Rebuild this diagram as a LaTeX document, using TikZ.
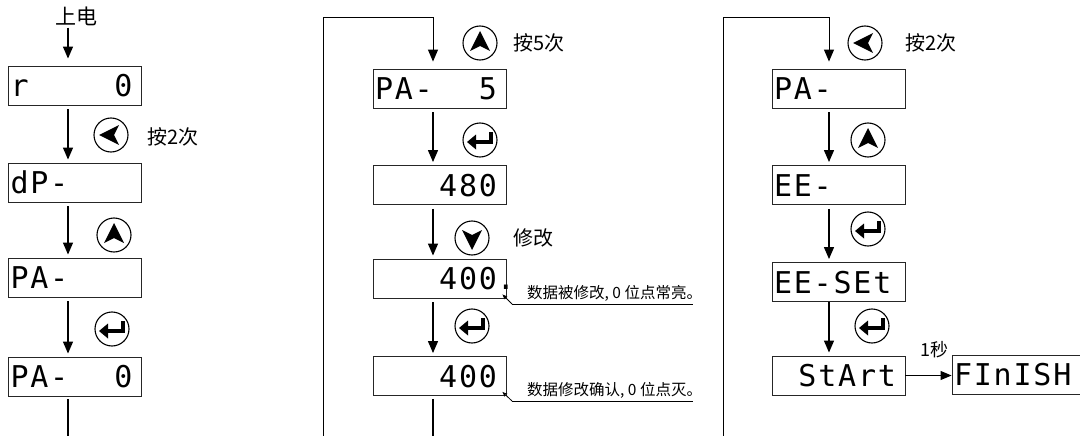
\documentclass[tikz,border=0pt]{standalone}
\usepackage{fontspec}
\usetikzlibrary{arrows.meta}
\newfontfamily\cjk{Noto Sans CJK SC}
\newfontfamily\lcdfont{DejaVu Sans Mono}[LetterSpace=6]
\newcommand\lcd[2]{\hspace*{2pt}\makebox[122pt]{\fontsize{30}{30}\lcdfont #1\hfill #2}\hspace*{9pt}}
\tikzset{
  disp/.style={draw=black!85, line width=0.9pt, minimum width=133pt, minimum height=39pt,
    inner sep=0pt, text height=22pt, text depth=0pt},
  flow/.style={line width=1.3pt, -{Triangle[length=12pt,width=10pt]}, shorten <=4pt, shorten >=3pt},
  loopline/.style={line width=1pt},
  lbl/.style={font=\cjk\fontsize{20}{20}\selectfont, anchor=west, inner sep=0pt},
  note/.style={font=\cjk\fontsize{15.5}{15.5}\selectfont, anchor=south west, inner sep=0pt},
  lead/.style={line width=0.8pt},
  btncirc/.style={circle, draw, line width=1.1pt, minimum size=34pt, inner sep=0pt},
  keyleft/.pic={\node[btncirc] (-c) {}; \fill (-12,0) -- (8,-10) -- (3,0) -- (8,10) -- cycle;},
  keyup/.pic={\node[btncirc] (-c) {}; \fill (0,-12) -- (-10,8) -- (0,3) -- (10,8) -- cycle;},
  keydown/.pic={\node[btncirc] (-c) {}; \fill (0,12) -- (-10,-8) -- (0,-3) -- (10,-8) -- cycle;},
  keyenter/.pic={\node[btncirc] (-c) {};
    \draw[line width=3.8pt, line join=miter] (11,-8) -- (11,2) -- (-5,2);
    \fill (-13,2) -- (-4,-5.5) -- (-4,9.5) -- cycle;},
}
\begin{document}
\begin{tikzpicture}[x=1pt,y=-1pt]
\clip (0,0) rectangle (1080,436);
% ---------- left column ----------
\node[font=\cjk\fontsize{21}{21}\selectfont, inner sep=0pt] (t0) at (76,16) {上电};
\node[disp] (l1) at (75,85.5) {\lcd{r}{0}};
\node[disp] (l2) at (75,182.5) {\lcd{dP-}{}};
\node[disp] (l3) at (75,277.5) {\lcd{PA-}{}};
\node[disp] (l4) at (75,376.5) {\lcd{PA-}{0}};
\coordinate (lb) at (68,436);
\draw[flow, shorten <=2pt, shorten >=7pt] ([xshift=-8pt]t0.south) -- ([xshift=-7pt]l1.north);
\draw[flow] ([xshift=-7pt]l1.south) -- ([xshift=-7pt]l2.north);
\draw[flow] ([xshift=-7pt]l2.south) -- ([xshift=-7pt]l3.north);
\draw[flow] ([xshift=-7pt]l3.south) -- ([xshift=-7pt]l4.north);
\draw[line width=1.3pt, shorten <=3pt] ([xshift=-7pt]l4.south) -- (lb);
\pic (ka) at (111,135) {keyleft};
\pic (kb) at (114,235) {keyup};
\pic (kc) at (112,329) {keyenter};
\node[lbl] (la) at (147,137) {按2次};
% ---------- middle column ----------
\node[disp] (m1) at (439.5,88.5) {\lcd{PA-}{5}};
\node[disp] (m2) at (439.5,185) {\lcd{}{480}};
\node[disp] (m3) at (439.5,278.5) {\lcd{}{400\rlap{.}}};
\node[disp] (m4) at (439.5,376) {\lcd{}{400}};
\coordinate (mb) at (323,436);
\coordinate (mb2) at (433,436);
\draw[loopline, -{Triangle[length=12pt,width=10pt]}, shorten >=7pt]
  (mb) |- ([xshift=-6.5pt,yshift=51pt]m1.north) -- ([xshift=-6.5pt]m1.north);
\draw[flow] ([xshift=-6.5pt]m1.south) -- ([xshift=-6.5pt]m2.north);
\draw[flow] ([xshift=-6.5pt]m2.south) -- ([xshift=-6.5pt]m3.north);
\draw[flow] ([xshift=-6.5pt]m3.south) -- ([xshift=-6.5pt]m4.north);
\draw[line width=1.3pt, shorten <=3pt] ([xshift=-6.5pt]m4.south) -- (mb2);
\pic (kd) at (480,43) {keyup};
\pic (ke) at (480,140) {keyenter};
\pic (kf) at (472,238) {keydown};
\pic (kg) at (472,326) {keyenter};
\node[lbl] (lb5) at (513,43) {按5次};
\node[lbl] (lm) at (513,238) {修改};
% leaders
\coordinate (n1) at (512,304);
\coordinate (n1e) at (693,304);
\draw[lead, -{Stealth[length=5pt,width=4pt]}] (n1) -- ([xshift=-4pt,yshift=4pt]m3.south east);
\draw[lead] (n1) -- (n1e);
\node[note] (nt1) at (527,302) {数据被修改, 0 位点常亮。};
\coordinate (n2) at (512,401);
\coordinate (n2e) at (693,401);
\draw[lead, -{Stealth[length=5pt,width=4pt]}] (n2) -- ([xshift=-4pt,yshift=4pt]m4.south east);
\draw[lead] (n2) -- (n2e);
\node[note] (nt2) at (527,399) {数据修改确认, 0 位点灭。};
% ---------- right column ----------
\node[disp] (r1) at (838.5,88.5) {\lcd{PA-}{}};
\node[disp] (r2) at (838.5,185) {\lcd{EE-}{}};
\node[disp] (r3) at (838.5,282) {\lcd{EE-SEt}{}};
\node[disp] (r4) at (838.5,375.5) {\lcd{}{StArt}};
\node[disp] (fin) at (1018.5,374.5) {\lcd{FInISH}{}};
\coordinate (rb) at (723,436);
\draw[loopline, -{Triangle[length=12pt,width=10pt]}, shorten >=7pt]
  (rb) |- ([xshift=-9.5pt,yshift=51pt]r1.north) -- ([xshift=-9.5pt]r1.north);
\draw[flow] ([xshift=-9.5pt]r1.south) -- ([xshift=-9.5pt]r2.north);
\draw[flow] ([xshift=-9.5pt]r2.south) -- ([xshift=-9.5pt]r3.north);
\draw[flow, shorten <=0pt] ([xshift=-9.5pt]r3.south) -- ([xshift=-9.5pt]r4.north);
\draw[loopline, -{Triangle[length=11pt,width=9pt]}] (r4.east) -- (r4.east -| fin.west);
\pic (kh) at (865,43) {keyleft};
\pic (ki) at (868,140) {keyup};
\pic (kj) at (868,229) {keyenter};
\pic (kk) at (872,326) {keyenter};
\node[lbl] (lr) at (905,43) {按2次};
\node[font=\cjk\fontsize{18}{18}\selectfont, inner sep=0pt] (ls) at (934,350) {1秒};
\end{tikzpicture}
\end{document}
